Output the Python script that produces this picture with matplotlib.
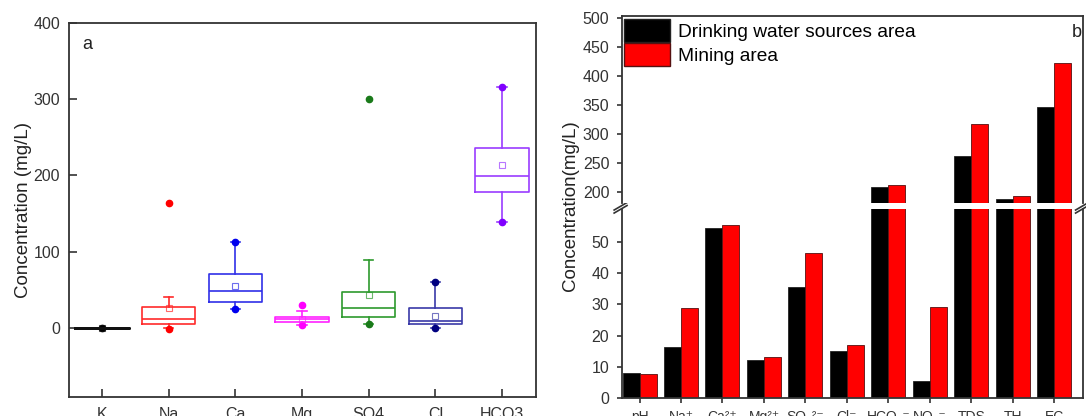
import numpy as np
import matplotlib
matplotlib.use('Agg')
import matplotlib.pyplot as plt
from matplotlib.patches import Patch

plt.rcParams['font.family'] = ['Liberation Sans', 'DejaVu Sans']
plt.rcParams['axes.edgecolor'] = '#333333'
plt.rcParams['xtick.color'] = '#333333'
plt.rcParams['ytick.color'] = '#333333'
plt.rcParams['axes.linewidth'] = 1.3

# panel a: ion box statistics (mg/L)
ions = ['K', 'Na', 'Ca', 'Mg', 'SO4', 'Cl', 'HCO3']
box_colors = ['#111111', '#ff2a2a', '#3030e8', '#ff22ff', '#2e9a2e', '#3a3aa8', '#9a3cff']
dot_colors = ['#000000', '#ff0000', '#0000ee', '#ff00ff', '#1a7a1a', '#000080', '#8000ff']
q1 = [0.6, 5.3, 34.8, 8.0, 15.0, 5.3, 178.0]
med = [0.6, 11.9, 49.3, 11.5, 26.0, 9.7, 198.6]
q3 = [0.6, 27.3, 71.3, 15.0, 48.0, 26.0, 235.6]
mean = [0.6, 26.0, 55.5, 12.0, 44.0, 16.3, 213.0]
whislo = [0.6, 0.0, 24.7, 4.0, 5.3, 0.5, 139.0]
whishi = [0.6, 40.5, 113.0, 23.0, 89.0, 60.0, 315.0]
extremes = [[0.5], [164.0, -0.5], [113.0, 24.7], [30.8, 4.0], [300.0, 5.3], [60.0, 0.5], [315.0, 139.0]]

# panel b: mean concentrations by area
params = ['pH', 'Na⁺', 'Ca²⁺', 'Mg²⁺', 'SO₄²⁻', 'Cl⁻', 'HCO₃⁻', 'NO₃⁻', 'TDS', 'TH', 'EC']
drinking = [7.9, 16.4, 54.6, 12.2, 35.7, 15.1, 208.0, 5.5, 261.0, 187.0, 346.0]
mining = [7.8, 28.7, 55.4, 13.0, 46.6, 17.0, 211.0, 29.3, 317.0, 192.0, 422.0]

fig = plt.figure(figsize=(10.86, 4.16), dpi=100)

# ---- panel a ----
ax = fig.add_axes([0.0631, 0.0457, 0.4300, 0.9002])
for i in range(len(ions)):
    c = box_colors[i]
    st = [dict(med=med[i], q1=q1[i], q3=q3[i], whislo=whislo[i], whishi=whishi[i],
               mean=mean[i], fliers=extremes[i])]
    lw = 2.0 if i == 0 else 1.2
    ax.bxp(st, positions=[i + 1], widths=0.8, capwidths=0.14, showmeans=True,
           boxprops=dict(color=c, linewidth=lw),
           medianprops=dict(color=c, linewidth=lw),
           whiskerprops=dict(color=c, linewidth=1.2),
           capprops=dict(color=c, linewidth=1.2),
           meanprops=dict(marker='s', markerfacecolor='none', markeredgecolor=c,
                          markersize=4, markeredgewidth=0.8, alpha=0.7),
           flierprops=dict(marker='o', markerfacecolor=dot_colors[i],
                           markeredgecolor=dot_colors[i], markersize=4.5))
ax.set_xlim(0.5, 7.5)
ax.set_ylim(-90, 400)
ax.set_yticks([0, 100, 200, 300, 400])
ax.set_xticks(range(1, 8))
ax.set_xticklabels(ions)
ax.tick_params(direction='in', length=5.5, width=1.2, labelsize=11.5, pad=6)
ax.tick_params(axis='x', pad=7)
ax.set_ylabel('Concentration (mg/L)', fontsize=13.5, labelpad=1, color='#222222')
ax.text(0.03, 0.93, 'a', transform=ax.transAxes, fontsize=13, color='#222222')

# ---- panel b: broken y axis ----
x = np.arange(len(params))
w = 0.41
ax_lo = fig.add_axes([0.5723, 0.0433, 0.4249, 0.4536])
ax_hi = fig.add_axes([0.5723, 0.5113, 0.4249, 0.4502])
for a in (ax_lo, ax_hi):
    a.bar(x - w / 2, drinking, w, color='black', edgecolor='#222222', linewidth=0.6)
    a.bar(x + w / 2, mining, w, color='#ff0000', edgecolor='#551111', linewidth=0.6)
    a.set_xlim(-0.434, 10.69)
    a.tick_params(direction='out', length=3.3, width=1.2, labelsize=11.5, pad=5.5)

ax_lo.set_ylim(0, 60.5)
ax_lo.set_yticks([0, 10, 20, 30, 40, 50])
ax_lo.set_xticks(x)
ax_lo.set_xticklabels(params, fontsize=10)
ax_lo.spines['top'].set_visible(False)

ax_hi.set_ylim(180, 503)
ax_hi.set_yticks([200, 250, 300, 350, 400, 450, 500])
ax_hi.set_xticks([])
ax_hi.spines['bottom'].set_visible(False)

# break marks on the y axes
for xa in (0.0, 1.0):
    for dy in (0.0, 0.016):
        ax_lo.plot([xa - 0.016, xa + 0.012], [1.0 - 0.02 + dy, 1.0 + 0.02 + dy],
                   transform=ax_lo.transAxes, color='#333333', lw=1.2, clip_on=False)

fig.text(0.525, 0.505, 'Concentration(mg/L)', rotation=90, ha='center', va='center',
         fontsize=13.5, color='#222222')
ax_hi.text(0.975, 0.89, 'b', transform=ax_hi.transAxes, fontsize=13, color='#222222')

handles = [Patch(facecolor='black', edgecolor='#222222'),
           Patch(facecolor='#ff0000', edgecolor='#551111')]
ax_hi.legend(handles, ['Drinking water sources area', 'Mining area'],
             loc='upper left', bbox_to_anchor=(0.0, 1.0), frameon=False,
             fontsize=13.8, handlelength=2.4, handleheight=1.45,
             handletextpad=0.4, labelspacing=0.08, borderpad=0.1, borderaxespad=0.05)

fig.savefig('out.png', dpi=100)
